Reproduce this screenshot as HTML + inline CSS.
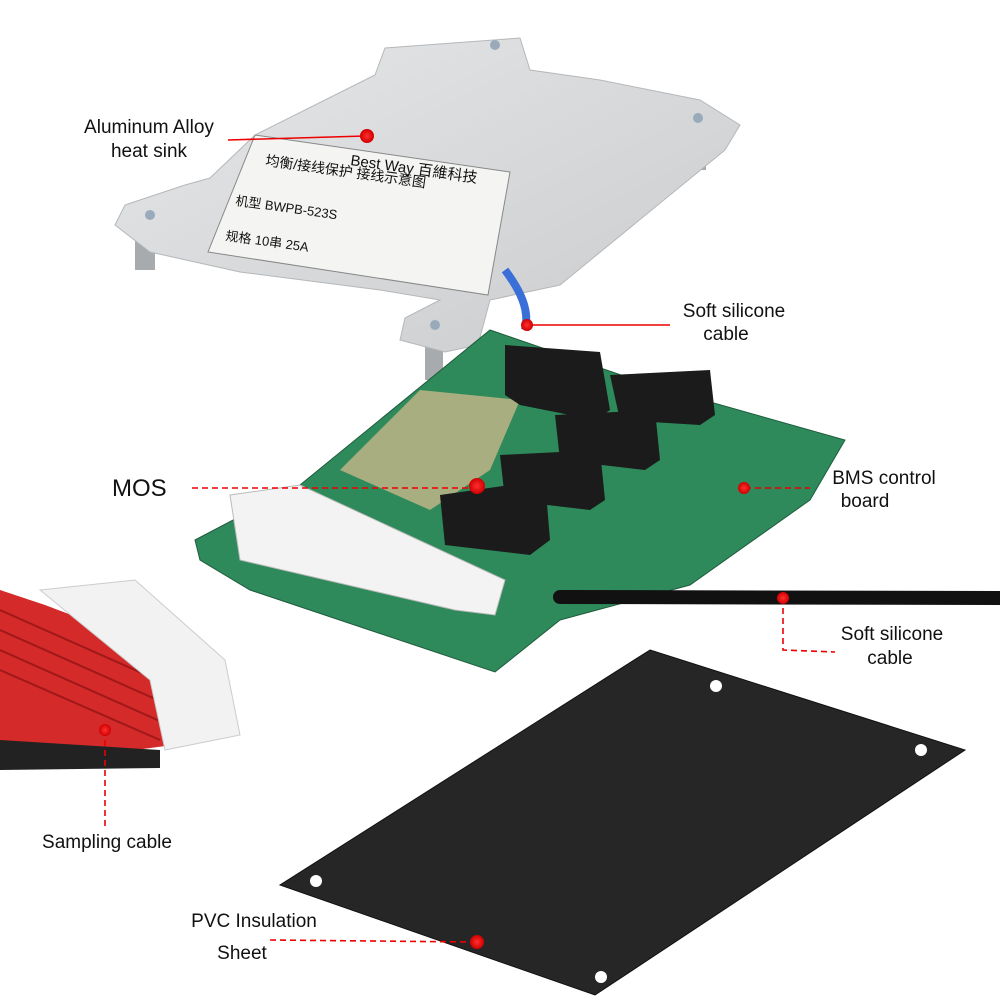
<!DOCTYPE html>
<html><head><meta charset="utf-8"><style>
body{margin:0;background:#fff}
svg{display:block}
text{font-family:"Liberation Sans","Noto Sans CJK SC",sans-serif;fill:#111}
</style></head><body>
<svg width="1000" height="1000" viewBox="0 0 1000 1000">
<defs>
<linearGradient id="al" x1="0" y1="0" x2="1" y2="1"><stop offset="0" stop-color="#e6e7e9"/><stop offset="1" stop-color="#c9cbcd"/></linearGradient>
<radialGradient id="dot"><stop offset="0" stop-color="#ff3030"/><stop offset="1" stop-color="#d00000"/></radialGradient>
</defs>
<!-- heat sink -->
<rect x="135" y="225" width="20" height="45" fill="#a8abad"/>
<rect x="425" y="335" width="18" height="45" fill="#a8abad"/>
<rect x="690" y="130" width="16" height="40" fill="#a8abad"/>
<polygon points="385,48 520,38 530,70 600,80 700,100 740,125 725,150 560,285 490,300 478,345 445,352 400,340 405,318 440,300 380,290 240,272 150,252 115,225 125,205 185,185 210,178 255,135 375,75" fill="url(#al)" stroke="#b5b7b9"/>
<polygon points="255,135 510,172 488,295 208,252" fill="#f4f4f2" stroke="#888" stroke-width="1"/>
<text x="350" y="165" font-size="15" transform="rotate(8 350 165)">Best Way 百維科技</text>
<text x="265" y="165" font-size="14" transform="rotate(8 265 165)">均衡/接线保护 接线示意图</text>
<text x="235" y="205" font-size="13" transform="rotate(8 235 205)">机型  BWPB-523S</text>
<text x="225" y="240" font-size="13" transform="rotate(8 225 240)">规格  10串 25A</text>
<circle cx="495" cy="45" r="5" fill="#9ab"/><circle cx="698" cy="118" r="5" fill="#9ab"/><circle cx="150" cy="215" r="5" fill="#9ab"/><circle cx="435" cy="325" r="5" fill="#9ab"/>
<!-- blue wire -->
<path d="M505,270 C520,290 530,310 525,330" stroke="#3a6fd8" stroke-width="8" fill="none"/>
<!-- PCB -->
<polygon points="195,540 300,485 490,330 650,385 845,440 810,500 690,585 560,620 495,672 250,590 200,560" fill="#2e8a5a" stroke="#1f5c3d"/>
<polygon points="340,470 420,390 520,400 490,470 430,510" fill="#c8b68a" opacity="0.8"/>
<!-- MOS -->
<polygon points="505,345 600,352 610,410 595,420 520,405 505,395" fill="#1b1b1b"/>
<polygon points="610,375 710,370 715,415 700,425 620,420" fill="#1b1b1b"/>
<polygon points="555,415 655,410 660,460 645,470 560,460" fill="#1b1b1b"/>
<polygon points="500,455 600,450 605,500 590,510 505,500" fill="#1b1b1b"/>
<polygon points="440,495 545,480 550,540 530,555 445,545" fill="#1b1b1b"/>
<!-- white connector -->
<polygon points="230,495 300,485 505,580 495,615 455,610 240,560" fill="#f3f3f3" stroke="#bbb"/>
<!-- black cable -->
<line x1="560" y1="597" x2="1000" y2="598" stroke="#111" stroke-width="14" stroke-linecap="round"/>
<!-- sampling cable -->
<polygon points="0,590 45,605 190,660 210,740 60,760 0,760" fill="#d42a2a"/>
<g stroke="#a01818" stroke-width="2"><line x1="0" y1="610" x2="180" y2="690"/><line x1="0" y1="630" x2="180" y2="710"/><line x1="0" y1="650" x2="180" y2="730"/><line x1="0" y1="670" x2="160" y2="740"/></g>
<polygon points="0,740 160,750 160,768 0,770" fill="#222"/>
<polygon points="40,590 135,580 225,660 240,735 165,750 150,680" fill="#f2f2f2" stroke="#ccc"/>
<!-- PVC sheet -->
<polygon points="650,650 965,750 595,995 280,885" fill="#262626" stroke="#111"/>
<circle cx="716" cy="686" r="6" fill="#fff"/><circle cx="921" cy="750" r="6" fill="#fff"/><circle cx="316" cy="881" r="6" fill="#fff"/><circle cx="601" cy="977" r="6" fill="#fff"/>
<!-- leaders -->
<g stroke="#e00" stroke-width="1.6" fill="none">
<line x1="228" y1="140" x2="365" y2="136"/>
<line x1="530" y1="325" x2="670" y2="325"/>
<line x1="192" y1="488" x2="475" y2="488" stroke-dasharray="6,4"/>
<line x1="745" y1="488" x2="810" y2="488" stroke-dasharray="6,4"/>
<polyline points="783,598 783,650 835,652" stroke-dasharray="6,4"/>
<polyline points="105,730 105,830" stroke-dasharray="6,4"/>
<line x1="270" y1="940" x2="475" y2="942" stroke-dasharray="6,4"/>
</g>
<g fill="url(#dot)">
<circle cx="367" cy="136" r="7"/><circle cx="527" cy="325" r="6"/><circle cx="477" cy="486" r="8"/><circle cx="744" cy="488" r="6"/><circle cx="783" cy="598" r="6"/><circle cx="105" cy="730" r="6"/><circle cx="477" cy="942" r="7"/>
</g>
<!-- labels -->
<text x="149" y="133" font-size="19" text-anchor="middle">Aluminum Alloy</text>
<text x="149" y="157" font-size="19" text-anchor="middle">heat sink</text>
<text x="734" y="317" font-size="19" text-anchor="middle">Soft silicone</text>
<text x="726" y="340" font-size="19" text-anchor="middle">cable</text>
<text x="112" y="496" font-size="24">MOS</text>
<text x="884" y="484" font-size="19" text-anchor="middle">BMS control</text>
<text x="865" y="507" font-size="19" text-anchor="middle">board</text>
<text x="892" y="640" font-size="19" text-anchor="middle">Soft silicone</text>
<text x="890" y="664" font-size="19" text-anchor="middle">cable</text>
<text x="107" y="848" font-size="19" text-anchor="middle">Sampling cable</text>
<text x="254" y="927" font-size="19" text-anchor="middle">PVC Insulation</text>
<text x="242" y="959" font-size="19" text-anchor="middle">Sheet</text>
</svg>
</body></html>
